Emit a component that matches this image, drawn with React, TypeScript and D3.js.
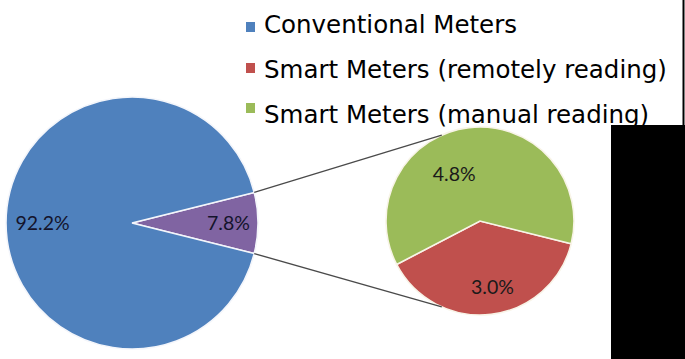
import * as d3 from "d3";
import React, { useEffect, useRef } from "react";

// main pie
const mainCategories = ["Smart Meters", "Conventional Meters"];
const mainValues = [7.8, 92.2];
// secondary pie (split of the smart meters)
const subCategories = ["Smart Meters (remotely reading)", "Smart Meters (manual reading)"];
const subValues = [3.0, 4.8];
// legend
const legendLabels = ["Conventional Meters", "Smart Meters (remotely reading)", "Smart Meters (manual reading)"];

const WIDTH = 685;
const HEIGHT = 359;

const colors: { [k: string]: string } = {
  "Conventional Meters": "#4F81BD",
  "Smart Meters": "#8064A2",
  "Smart Meters (remotely reading)": "#C0504D",
  "Smart Meters (manual reading)": "#9BBB59"
};

const rad = (deg: number) => (deg * Math.PI) / 180;
const fmt = (v: number) => v.toFixed(1) + "%";

const drawChart = (el: SVGSVGElement) => {
  const svg = d3.select(el);
  svg.selectAll("*").remove();

  const main = { cx: 132, cy: 223, r: 126 };
  const sub = { cx: 480, cy: 221, r: 94 };

  const mainTotal = d3.sum(mainValues);

  // main pie: smart slice centered on the right side
  const smartSpan = (mainValues[0] / mainTotal) * 2 * Math.PI;
  const mainPie = d3
    .pie<number>()
    .sort(null)
    .startAngle(Math.PI / 2 - smartSpan / 2)
    .endAngle(Math.PI / 2 - smartSpan / 2 + 2 * Math.PI);
  const mainArcs = mainPie(mainValues);
  const mainArc = d3.arc<d3.PieArcDatum<number>>().innerRadius(0).outerRadius(main.r);

  const gMain = svg.append("g").attr("transform", `translate(${main.cx},${main.cy})`);
  gMain
    .selectAll("path")
    .data(mainArcs)
    .enter()
    .append("path")
    .attr("d", mainArc)
    .attr("fill", (d, i) => colors[mainCategories[i]])
    .attr("stroke", "#f4f6fb")
    .attr("stroke-width", 1.6);

  const mainLabelRadius = [0.765, 0.71];
  gMain
    .selectAll("text")
    .data(mainArcs)
    .enter()
    .append("text")
    .attr("transform", (d, i) => {
      const a = (d.startAngle + d.endAngle) / 2;
      const rr = main.r * mainLabelRadius[i];
      return `translate(${Math.sin(a) * rr},${-Math.cos(a) * rr})`;
    })
    .attr("text-anchor", "middle")
    .attr("dy", "0.36em")
    .attr("font-family", "Lato, 'Open Sans', sans-serif")
    .attr("font-size", 19.5)
    .attr("fill", "#14142c")
    .text(d => fmt(d.value));

  // secondary pie
  const subStart = rad(104);
  const subPie = d3
    .pie<number>()
    .sort(null)
    .startAngle(subStart)
    .endAngle(subStart + 2 * Math.PI);
  const subArcs = subPie(subValues);
  const subArc = d3.arc<d3.PieArcDatum<number>>().innerRadius(0).outerRadius(sub.r);

  const gSub = svg.append("g").attr("transform", `translate(${sub.cx},${sub.cy})`);
  gSub
    .selectAll("path")
    .data(subArcs)
    .enter()
    .append("path")
    .attr("d", subArc)
    .attr("fill", (d, i) => colors[subCategories[i]])
    .attr("stroke", "#f8f4e8")
    .attr("stroke-width", 1.6);

  const subLabelRadius = [0.71, 0.57];
  const subLabelShift = [rad(-4), rad(-22)];
  gSub
    .selectAll("text")
    .data(subArcs)
    .enter()
    .append("text")
    .attr("transform", (d, i) => {
      const a = (d.startAngle + d.endAngle) / 2 + subLabelShift[i];
      const rr = sub.r * subLabelRadius[i];
      return `translate(${Math.sin(a) * rr},${-Math.cos(a) * rr})`;
    })
    .attr("text-anchor", "middle")
    .attr("dy", "0.36em")
    .attr("font-family", "Lato, 'Open Sans', sans-serif")
    .attr("font-size", 19.5)
    .attr("fill", "#1a1a1a")
    .text(d => fmt(d.value));

  // connector lines from smart slice edges to secondary pie
  const smart = mainArcs[0];
  const edgeTop = [main.cx + Math.sin(smart.startAngle) * main.r, main.cy - Math.cos(smart.startAngle) * main.r];
  const edgeBottom = [main.cx + Math.sin(smart.endAngle) * main.r, main.cy - Math.cos(smart.endAngle) * main.r];
  const subTop = [sub.cx + Math.sin(rad(-24)) * sub.r, sub.cy - Math.cos(rad(-24)) * sub.r];
  const subBottom = [sub.cx + Math.sin(rad(204)) * sub.r, sub.cy - Math.cos(rad(204)) * sub.r];
  [
    [edgeTop, subTop],
    [edgeBottom, subBottom]
  ].forEach(([a, b]) => {
    svg
      .append("line")
      .attr("x1", a[0])
      .attr("y1", a[1])
      .attr("x2", b[0])
      .attr("y2", b[1])
      .attr("stroke", "#4a4a4a")
      .attr("stroke-width", 1.3);
  });

  // legend
  const legendY = d3.scalePoint<string>().domain(legendLabels).range([33, 123]);
  const markerTop = [-11, -15, -20];
  const legend = svg.append("g");
  legendLabels.forEach((label, i) => {
    const y = legendY(label) as number;
    legend
      .append("rect")
      .attr("x", 246)
      .attr("y", y + markerTop[i])
      .attr("width", 9)
      .attr("height", 10)
      .attr("fill", colors[label]);
    legend
      .append("text")
      .attr("x", 264)
      .attr("y", y)
      .attr("font-family", "'DejaVu Sans', Verdana, sans-serif")
      .attr("font-size", 24.5)
      .attr("fill", "#000")
      .text(label);
  });

  // frame edge and black block on the right
  svg
    .append("line")
    .attr("x1", WIDTH - 1.5)
    .attr("x2", WIDTH - 1.5)
    .attr("y1", 0)
    .attr("y2", 126)
    .attr("stroke", "#000")
    .attr("stroke-width", 2);
  svg
    .append("rect")
    .attr("x", 611)
    .attr("y", 125)
    .attr("width", WIDTH - 611)
    .attr("height", HEIGHT - 125)
    .attr("fill", "#000");
};

export default function App() {
  const ref = useRef<SVGSVGElement>(null);
  useEffect(() => {
    if (ref.current) drawChart(ref.current);
  }, []);
  return (
    <svg
      ref={ref}
      width={WIDTH}
      height={HEIGHT}
      style={{ position: "absolute", left: 0, top: 0, background: "#fff" }}
    />
  );
}
